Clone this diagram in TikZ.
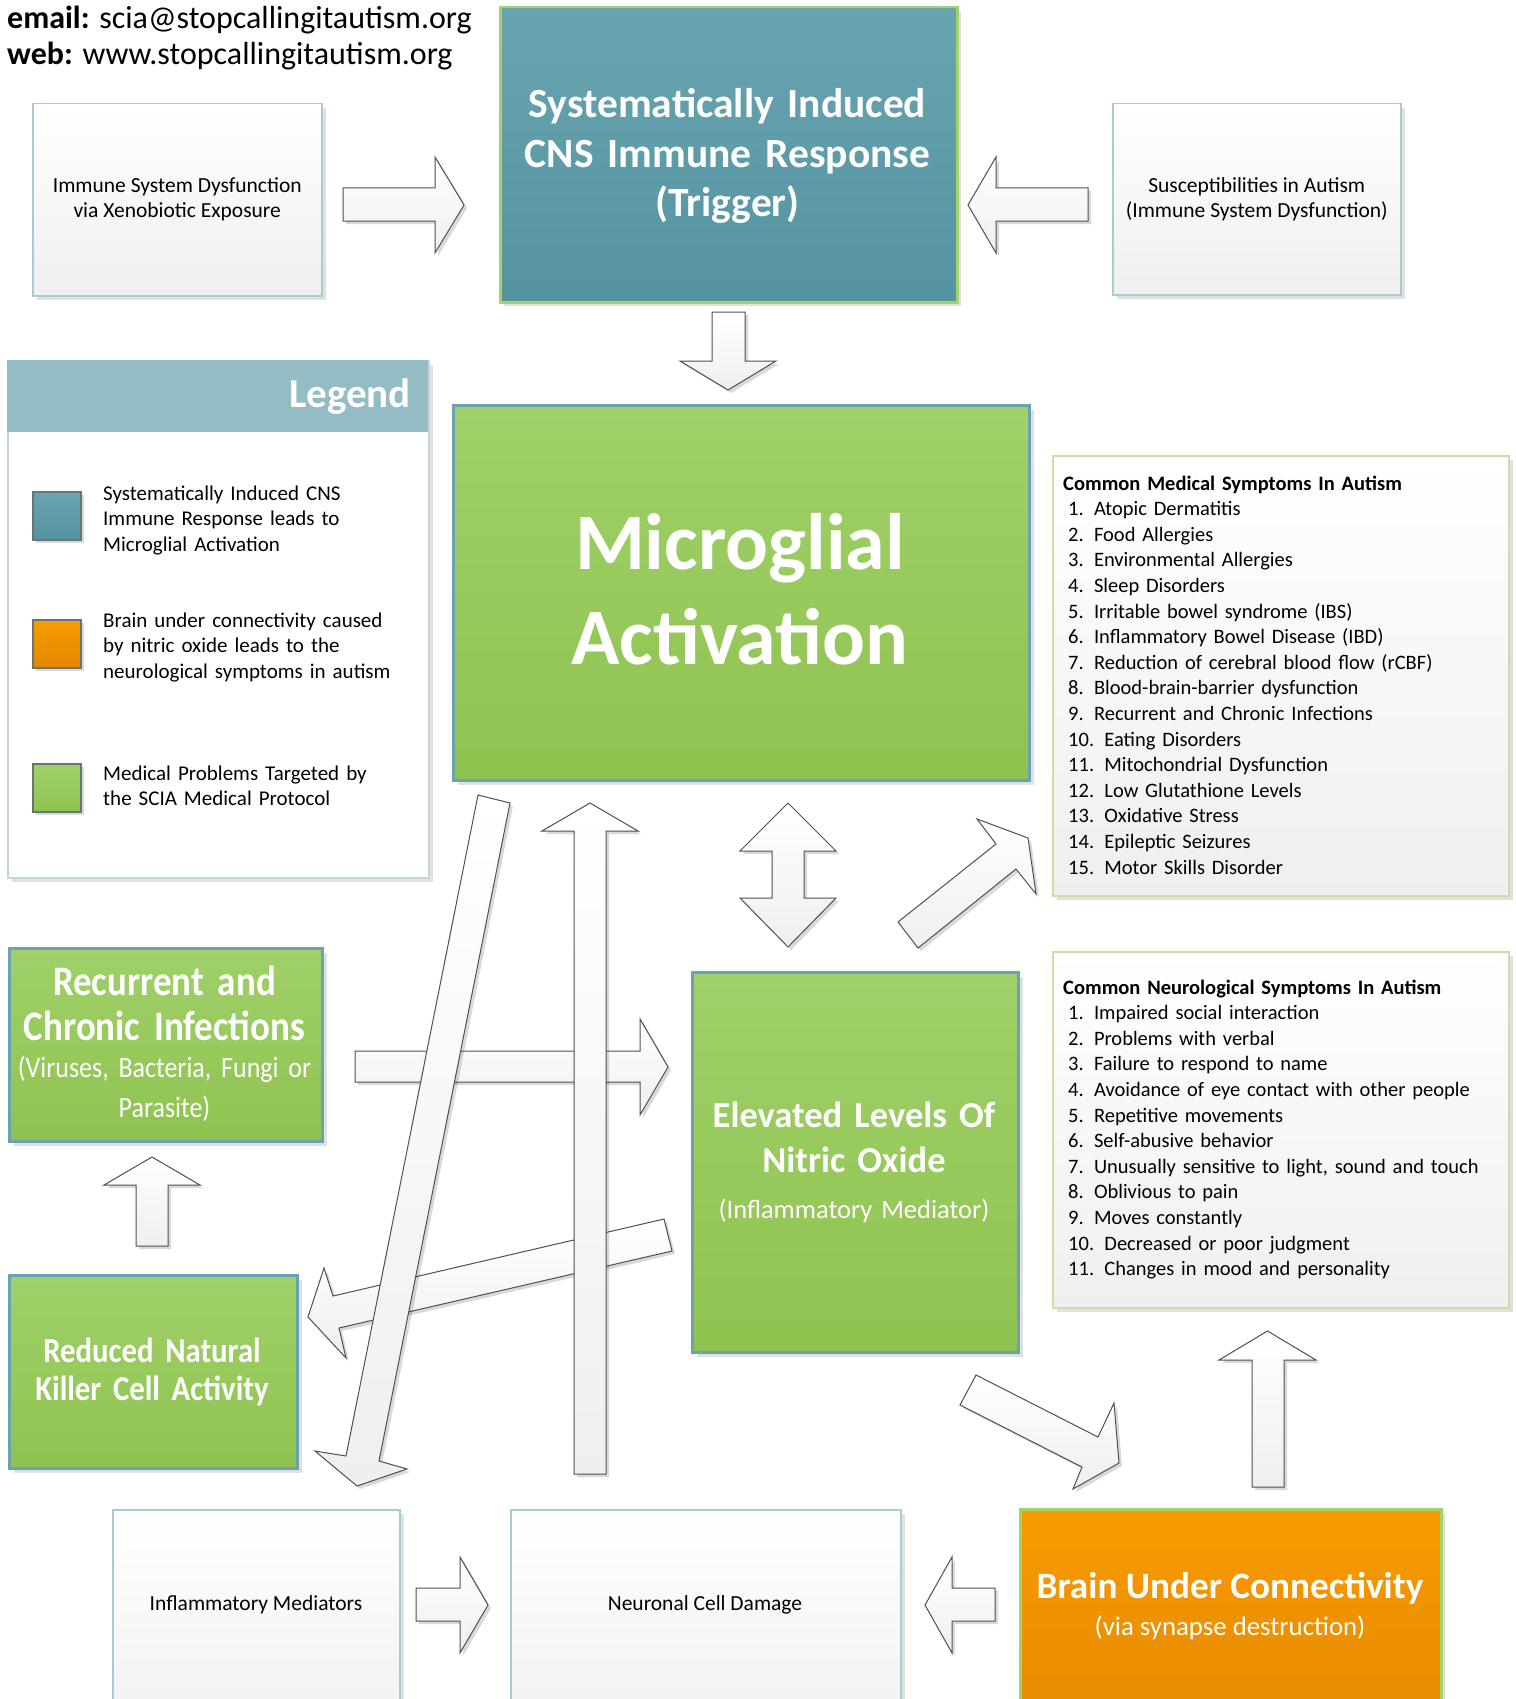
\documentclass[tikz,border=0pt]{standalone}
\usepackage{fontspec}
\setmainfont{Carlito}
\newfontfamily\condfont[FakeStretch=0.88,WordSpace=0.8]{Carlito}
\usetikzlibrary{shadows}
\definecolor{teallight}{HTML}{68A5B0}
\definecolor{tealdark}{HTML}{5593A1}
\definecolor{greenlight}{HTML}{A0D06A}
\definecolor{greendark}{HTML}{8FC34F}
\definecolor{tealedge}{HTML}{6AA2B1}
\definecolor{greenedge}{HTML}{A2D26A}
\definecolor{paleedge}{HTML}{A9CBD4}
\definecolor{palegreenedge}{HTML}{C6E0A8}
\definecolor{legendhead}{HTML}{93BCC5}
\definecolor{legendedge}{HTML}{C3D6DC}
\definecolor{orangelight}{HTML}{F99B00}
\definecolor{orangedark}{HTML}{E38700}
\definecolor{boxgray}{HTML}{EFEFEF}
\definecolor{arrowline}{HTML}{505050}
\definecolor{swatchedge}{HTML}{6A7474}
\tikzset{
  softshadow/.style={drop shadow={shadow xshift=4pt, shadow yshift=-4pt, fill=black, opacity=0.12}},
  basebox/.style={inner sep=0pt, anchor=north west, softshadow},
  plainbox/.style={basebox, draw=paleedge, line width=1.5pt, top color=white, bottom color=boxgray, align=center, text=black},
  listbox/.style={basebox, draw=palegreenedge, line width=1.5pt, top color=white, bottom color=boxgray},
  greenbox/.style={basebox, draw=tealedge, line width=3pt, top color=greenlight, bottom color=greendark},
  tealbox/.style={basebox, draw=greenedge, line width=2.5pt, top color=teallight, bottom color=tealdark},
  orangebox/.style={basebox, draw=greenedge, line width=2.5pt, top color=orangelight, bottom color=orangedark},
  whitetext/.style={text=white, align=center, inner sep=0pt, anchor=base},
  blacktext/.style={text=black, align=center, inner sep=0pt, anchor=base},
  blockarrow/.style={draw=arrowline, line width=1pt, top color=white, bottom color=boxgray, line join=miter,
     drop shadow={shadow xshift=3pt, shadow yshift=-3pt, fill=black, opacity=0.15}},
  swatch/.style={draw=swatchedge, line width=1.5pt, minimum width=48pt, minimum height=48pt, inner sep=0pt, anchor=north west,
     drop shadow={shadow xshift=3pt, shadow yshift=-3pt, fill=black, opacity=0.15}},
  listtext/.style={anchor=base west, inner sep=0pt, text width=440pt, align=left, font=\fontsize{20.5}{25.6}\selectfont},
  legtext/.style={anchor=base west, inner sep=0pt, text width=320pt, align=left, font=\fontsize{21}{25.6}\selectfont},
}
\begin{document}
\begin{tikzpicture}[x=1pt,y=-1pt]
\useasboundingbox (0,0) rectangle (1515,1699);
\clip (0,0) rectangle (1515,1699);
\fill[white] (0,0) rectangle (1515,1699);

% header text
\node[anchor=base west, inner sep=0pt, font=\fontsize{32}{36}\selectfont] (email) at (7,29) {\textbf{email:} scia@stopcallingitautism.org};
\node[anchor=base west, inner sep=0pt, font=\fontsize{32}{36}\selectfont] (web) at (7,65) {\textbf{web:} www.stopcallingitautism.org};

% top row
\node[plainbox, minimum width=289pt, minimum height=192pt, font=\fontsize{21.5}{25}\selectfont] (immune) at (32,103) {Immune System Dysfunction\\via Xenobiotic Exposure};
\node[tealbox, minimum width=457pt, minimum height=295pt] (trigger) at (499,6) {};
\node[whitetext, text width=450pt, font=\fontsize{41.5}{49.5}\selectfont\bfseries] (trigtext) at (727.5,118) {Systematically Induced\\CNS Immune Response\\(Trigger)};
\node[plainbox, minimum width=288pt, minimum height=191pt, font=\fontsize{21.5}{25}\selectfont] (suscept) at (1112,103) {Susceptibilities in Autism\\(Immune System Dysfunction)};

% legend
\node[basebox, draw=legendedge, line width=1.5pt, fill=white, minimum width=421pt, minimum height=517pt] (legend) at (7,360) {};
\node[inner sep=0pt, anchor=north west, fill=legendhead, minimum width=421pt, minimum height=72pt] (leghead) at (7,360) {};
\node[anchor=base east, inner sep=0pt, text=white, font=\fontsize{41}{46}\selectfont\bfseries] (legtitle) at (411,407) {Legend};
\node[swatch, top color=teallight, bottom color=tealdark] (sw1) at (32,491) {};
\node[swatch, top color=orangelight, bottom color=orangedark] (sw2) at (32,619) {};
\node[swatch, top color=greenlight, bottom color=greendark] (sw3) at (32,763) {};
\node[legtext] (lt1) at (103,500) {Systematically Induced CNS\\Immune Response leads to\\Microglial Activation};
\node[legtext] (lt2) at (103,627) {Brain under connectivity caused\\by nitric oxide leads to the\\neurological symptoms in autism};
\node[legtext] (lt3) at (103,780) {Medical Problems Targeted by\\the SCIA Medical Protocol};

% microglial
\node[greenbox, minimum width=576pt, minimum height=375pt] (micro) at (452,404) {};
\node[whitetext, text width=570pt, font=\fontsize{80}{95}\selectfont\bfseries] (microtext) at (740,569) {Microglial\\Activation};

% symptom lists
\node[listbox, minimum width=456pt, minimum height=440pt] (medical) at (1052,455) {};
\node[listtext] (medtext) at (1063,490) {\textbf{Common Medical Symptoms In Autism}\\
\hspace*{5pt}1. Atopic Dermatitis\\
\hspace*{5pt}2. Food Allergies\\
\hspace*{5pt}3. Environmental Allergies\\
\hspace*{5pt}4. Sleep Disorders\\
\hspace*{5pt}5. Irritable bowel syndrome (IBS)\\
\hspace*{5pt}6. Inflammatory Bowel Disease (IBD)\\
\hspace*{5pt}7. Reduction of cerebral blood flow (rCBF)\\
\hspace*{5pt}8. Blood-brain-barrier dysfunction\\
\hspace*{5pt}9. Recurrent and Chronic Infections\\
\hspace*{5pt}10. Eating Disorders\\
\hspace*{5pt}11. Mitochondrial Dysfunction\\
\hspace*{5pt}12. Low Glutathione Levels\\
\hspace*{5pt}13. Oxidative Stress\\
\hspace*{5pt}14. Epileptic Seizures\\
\hspace*{5pt}15. Motor Skills Disorder};
\node[listbox, minimum width=456pt, minimum height=356pt] (neuro) at (1052,951) {};
\node[listtext] (neurotext) at (1063,994) {\textbf{Common Neurological Symptoms In Autism}\\
\hspace*{5pt}1. Impaired social interaction\\
\hspace*{5pt}2. Problems with verbal\\
\hspace*{5pt}3. Failure to respond to name\\
\hspace*{5pt}4. Avoidance of eye contact with other people\\
\hspace*{5pt}5. Repetitive movements\\
\hspace*{5pt}6. Self-abusive behavior\\
\hspace*{5pt}7. Unusually sensitive to light, sound and touch\\
\hspace*{5pt}8. Oblivious to pain\\
\hspace*{5pt}9. Moves constantly\\
\hspace*{5pt}10. Decreased or poor judgment\\
\hspace*{5pt}11. Changes in mood and personality};

% left green boxes
\node[greenbox, minimum width=313pt, minimum height=193pt] (recur) at (8,947) {};
\node[whitetext, text width=310pt, font=\condfont\fontsize{42}{45}\selectfont\bfseries] (rectitle) at (164.5,995) {Recurrent and\\Chronic Infections};
\node[whitetext, text width=310pt, font=\condfont\fontsize{29.5}{40}\selectfont] (recsub) at (164.5,1077) {(Viruses, Bacteria, Fungi or\\Parasite)};
\node[greenbox, minimum width=288pt, minimum height=193pt] (nk) at (8,1274) {};
\node[whitetext, text width=285pt, font=\condfont\fontsize{35}{38}\selectfont\bfseries] (nktext) at (152,1362) {Reduced Natural\\Killer Cell Activity};

% nitric oxide
\node[greenbox, minimum width=326pt, minimum height=380pt] (nitric) at (691,971) {};
\node[whitetext, text width=320pt, font=\fontsize{36.5}{45}\selectfont\bfseries] (notitle) at (854,1127) {Elevated Levels Of\\Nitric Oxide};
\node[whitetext, text width=320pt, font=\fontsize{26.5}{30}\selectfont] (nosub) at (854,1218) {(Inflammatory Mediator)};

% bottom row
\node[plainbox, minimum width=287pt, minimum height=250pt] (inflam) at (112,1509) {};
\node[blacktext, font=\fontsize{21.5}{25}\selectfont] (inflamtext) at (256,1610) {Inflammatory Mediators};
\node[plainbox, minimum width=390pt, minimum height=250pt] (neuronal) at (510,1509) {};
\node[blacktext, font=\fontsize{21.5}{25}\selectfont] (neuronaltext) at (705,1610) {Neuronal Cell Damage};
\node[orangebox, minimum width=421pt, minimum height=250pt] (brain) at (1019,1508) {};
\node[whitetext, font=\fontsize{37.2}{40}\selectfont\bfseries] (braintitle) at (1230,1598) {Brain Under Connectivity};
\node[whitetext, font=\fontsize{26.8}{30}\selectfont] (brainsub) at (1230,1635) {(via synapse destruction)};

% block arrows
% immune -> trigger
\draw[blockarrow] (343,188) -- (435,188) -- (435,157) -- (464,205) -- (435,253) -- (435,221) -- (343,221) -- cycle;
% suscept -> trigger
\draw[blockarrow] (1088,188) -- (996,188) -- (996,157) -- (968,205) -- (996,253) -- (996,221) -- (1088,221) -- cycle;
% trigger -> micro
\draw[blockarrow] (712,312) -- (745,312) -- (745,361) -- (776,361) -- (728,390) -- (680,361) -- (712,361) -- cycle;
% micro <-> nitric
\draw[blockarrow] (788,803) -- (836,851) -- (804,851) -- (804,898) -- (836,898) -- (788,947) -- (740,898) -- (772,898) -- (772,851) -- (740,851) -- cycle;
% nitric -> medical
\draw[blockarrow] (898,922) -- (996,844) -- (977,819) -- (1028,838) -- (1036,894) -- (1016,869) -- (918,948) -- cycle;
% recurrent -> nitric (under)
\draw[blockarrow] (355,1051) -- (640,1051) -- (640,1019) -- (668,1067) -- (640,1115) -- (640,1082) -- (355,1082) -- cycle;
% nitric -> nk (under)
\draw[blockarrow] (664,1219) -- (672,1251) -- (339,1328) -- (346,1358) -- (308,1317) -- (324,1268) -- (333,1296) -- cycle;
% up to micro
\draw[blockarrow] (574,1474) -- (574,831) -- (542,831) -- (590,803) -- (638,831) -- (606,831) -- (606,1474) -- cycle;
% micro down to nk
\draw[blockarrow] (478,795) -- (510,803) -- (379,1461) -- (407,1469) -- (357,1486) -- (315,1451) -- (346,1456) -- cycle;
% nk -> recurrent
\draw[blockarrow] (136,1246) -- (136,1185) -- (104,1185) -- (152,1157) -- (200,1185) -- (168,1185) -- (168,1246) -- cycle;
% nitric -> brain
\draw[blockarrow] (976,1375) -- (1098,1437) -- (1114,1403) -- (1119,1463) -- (1073,1489) -- (1082,1467) -- (960,1405) -- cycle;
% brain -> neuro
\draw[blockarrow] (1252,1487) -- (1252,1360) -- (1219,1360) -- (1267.5,1331) -- (1316,1360) -- (1284,1360) -- (1284,1487) -- cycle;
% inflam -> neuronal
\draw[blockarrow] (416,1588) -- (460,1588) -- (460,1557) -- (488,1605) -- (460,1653) -- (460,1621) -- (416,1621) -- cycle;
% brain -> neuronal
\draw[blockarrow] (995,1588) -- (952,1588) -- (952,1557) -- (925,1605) -- (952,1653) -- (952,1621) -- (995,1621) -- cycle;
\end{tikzpicture}
\end{document}
